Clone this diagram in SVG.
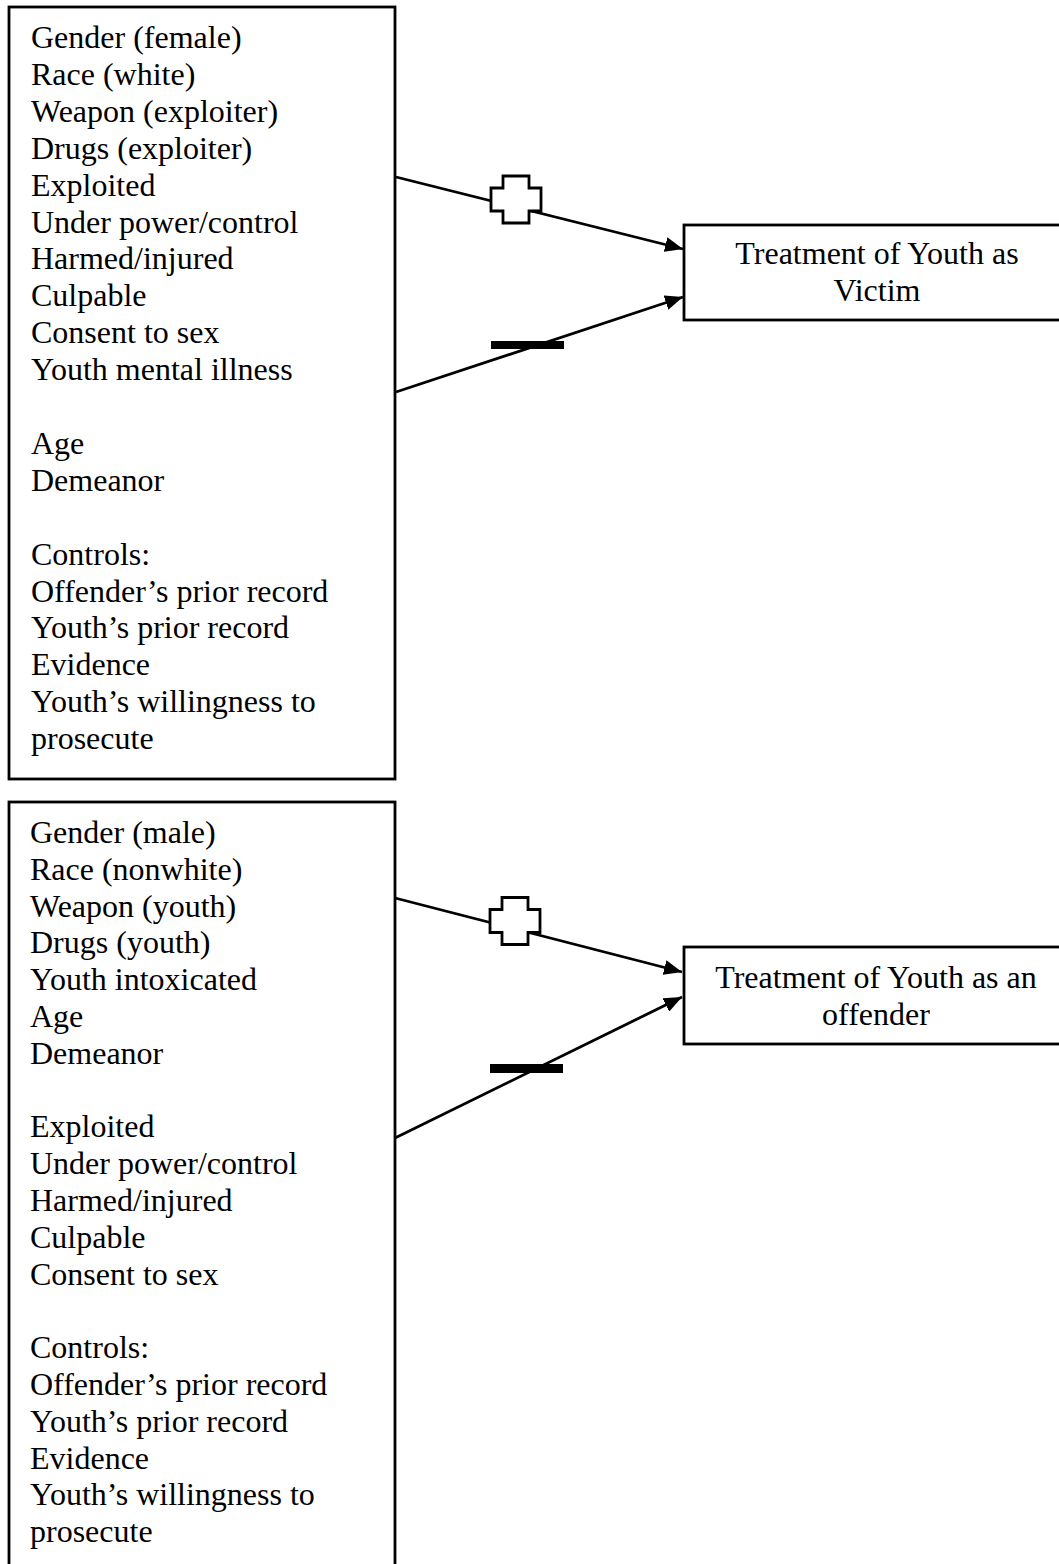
<svg xmlns="http://www.w3.org/2000/svg" xmlns:xlink="http://www.w3.org/1999/xlink" width="1059" height="1564" viewBox="0 0 1059 1564">
<style>
.box{fill:#fff;stroke:#000;stroke-width:2.8}
.t{font-family:"Liberation Serif","Times New Roman",serif;font-size:32px;fill:#000}
.c{text-anchor:middle}
.edge{stroke:#000;stroke-width:2.8;fill:none;marker-end:url(#arr)}
.plus{fill:#fff;stroke:#000;stroke-width:2.8}
.minus{fill:#000}
</style>
<defs>
<marker id="arr" markerUnits="userSpaceOnUse" viewBox="0 0 18 15" refX="18" refY="7.5" markerWidth="18" markerHeight="15" orient="auto">
<path d="M0,0 L18,7.5 L0,15 z" fill="#000"/>
</marker>
<path id="plusShape" d="M-13,-23.5 H13 V-11.5 H25 V11.5 H13 V23.5 H-13 V11.5 H-25 V-11.5 H-13 Z"/>
</defs>
<rect width="1059" height="1564" fill="#fff"/>

<g id="victim-factors">
<rect class="box" x="9" y="7" width="386" height="772"/>
<text class="t" x="31" y="48">Gender (female)</text>
<text class="t" x="31" y="84.9">Race (white)</text>
<text class="t" x="31" y="121.8">Weapon (exploiter)</text>
<text class="t" x="31" y="158.7">Drugs (exploiter)</text>
<text class="t" x="31" y="195.6">Exploited</text>
<text class="t" x="31" y="232.5">Under power/control</text>
<text class="t" x="31" y="269.4">Harmed/injured</text>
<text class="t" x="31" y="306.3">Culpable</text>
<text class="t" x="31" y="343.2">Consent to sex</text>
<text class="t" x="31" y="380.1">Youth mental illness</text>
<text class="t" x="31" y="453.9">Age</text>
<text class="t" x="31" y="490.8">Demeanor</text>
<text class="t" x="31" y="564.6">Controls:</text>
<text class="t" x="31" y="601.5">Offender’s prior record</text>
<text class="t" x="31" y="638.4">Youth’s prior record</text>
<text class="t" x="31" y="675.3">Evidence</text>
<text class="t" x="31" y="712.2">Youth’s willingness to</text>
<text class="t" x="31" y="749.1">prosecute</text>
</g>

<g id="offender-factors">
<rect class="box" x="9" y="802" width="386" height="800"/>
<text class="t" x="30" y="843">Gender (male)</text>
<text class="t" x="30" y="879.8">Race (nonwhite)</text>
<text class="t" x="30" y="916.6">Weapon (youth)</text>
<text class="t" x="30" y="953.4">Drugs (youth)</text>
<text class="t" x="30" y="990.2">Youth intoxicated</text>
<text class="t" x="30" y="1027">Age</text>
<text class="t" x="30" y="1063.8">Demeanor</text>
<text class="t" x="30" y="1137.4">Exploited</text>
<text class="t" x="30" y="1174.2">Under power/control</text>
<text class="t" x="30" y="1211">Harmed/injured</text>
<text class="t" x="30" y="1247.8">Culpable</text>
<text class="t" x="30" y="1284.6">Consent to sex</text>
<text class="t" x="30" y="1358.2">Controls:</text>
<text class="t" x="30" y="1395">Offender’s prior record</text>
<text class="t" x="30" y="1431.8">Youth’s prior record</text>
<text class="t" x="30" y="1468.6">Evidence</text>
<text class="t" x="30" y="1505.4">Youth’s willingness to</text>
<text class="t" x="30" y="1542.2">prosecute</text>
</g>

<g id="victim-outcome">
<rect class="box" x="684" y="225" width="386" height="95"/>
<text class="t c" x="877" y="264">Treatment of Youth as</text>
<text class="t c" x="877" y="301">Victim</text>
</g>

<g id="offender-outcome">
<rect class="box" x="684" y="947" width="386" height="97"/>
<text class="t c" x="876" y="988">Treatment of Youth as an</text>
<text class="t c" x="876" y="1025">offender</text>
</g>

<g id="connectors">
<line class="edge" x1="396" y1="177" x2="683" y2="249"/>
<line class="edge" x1="396" y1="392" x2="683" y2="297"/>
<line class="edge" x1="395" y1="898" x2="682" y2="972"/>
<line class="edge" x1="395" y1="1138" x2="682" y2="997"/>
<use xlink:href="#plusShape" class="plus" transform="translate(516,199.5)"/>
<use xlink:href="#plusShape" class="plus" transform="translate(515,921)"/>
<rect class="minus" x="491" y="341" width="73" height="8"/>
<rect class="minus" x="490" y="1064" width="73" height="9"/>
</g>
</svg>
